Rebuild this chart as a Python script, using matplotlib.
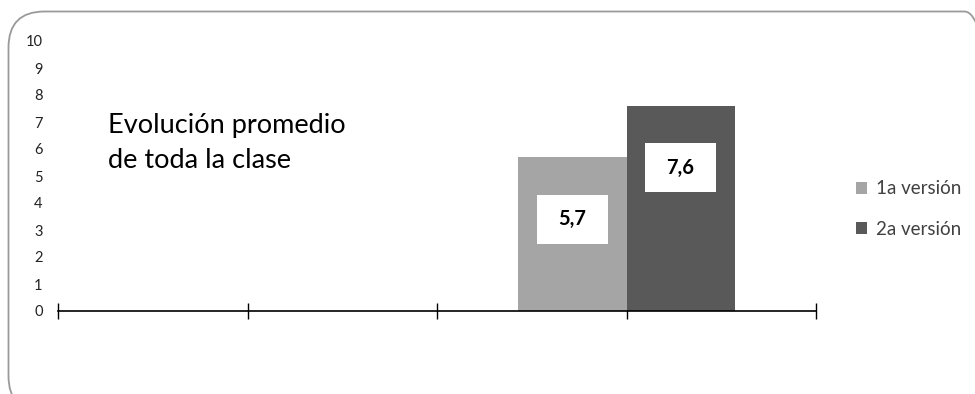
import matplotlib.pyplot as plt
from matplotlib.patches import FancyBboxPatch, Rectangle
from matplotlib.transforms import IdentityTransform

plt.rcParams['font.family'] = ['Lato', 'DejaVu Sans']

series = ['1a versión', '2a versión']
values = [5.7, 7.6]
colors = ['#a5a5a5', '#595959']
title = 'Evolución promedio\nde toda la clase'
group_pos = 3
bar_w = 0.57

fig = plt.figure(figsize=(9.75, 3.94), dpi=100)
W, H = 975, 394

# rounded frame in pixels, cut off at the right and bottom edges
frame = FancyBboxPatch((8.5, -18), 992, 400.5,
                       boxstyle='round,pad=0,rounding_size=36',
                       transform=IdentityTransform(), fill=False,
                       edgecolor='#9a9a9a', lw=1.3)
fig.patches.append(frame)

ax = fig.add_axes([58 / W, 1 - 311 / H, (816 - 58) / W, (311 - 41) / H])
ax.set_xlim(0, 4)
ax.set_ylim(0, 10)

for i, (s, v, c) in enumerate(zip(series, values, colors)):
    x = group_pos + (i - 0.5) * bar_w
    ax.bar(x, v, width=bar_w, color=c, label=s, zorder=2)
    ly = v - 2.3
    bw, bh = 0.37, 1.82
    ax.add_patch(Rectangle((x - bw / 2, ly - bh / 2), bw, bh,
                           facecolor='white', edgecolor='none', zorder=3))
    ax.text(x, ly, f'{v:.1f}'.replace('.', ','), ha='center', va='center',
            fontsize=14.5, fontweight='bold', color='black', zorder=4)

ax.set_xticks(range(5))
ax.set_xticklabels([])
ax.set_yticks(range(11))
ax.tick_params(axis='x', direction='inout', length=12, width=1, color='black')
ax.tick_params(axis='y', length=0, pad=11, labelsize=10.5, labelcolor='#222222')
for s in ['top', 'right', 'left']:
    ax.spines[s].set_visible(False)
ax.spines['bottom'].set_linewidth(1.2)
ax.spines['bottom'].set_zorder(5)
ax.patch.set_visible(False)

fig.text(108 / W, 1 - 113 / H, title, fontsize=19.5, va='top', ha='left',
         linespacing=1.52, color='black')

fig.legend(loc='center left', bbox_to_anchor=(856 / W, 1 - 209 / H),
           frameon=False, fontsize=13.5, handlelength=0.6, handleheight=0.6,
           handletextpad=0.45, labelspacing=1.25, borderpad=0, borderaxespad=0,
           labelcolor='#404040')

fig.savefig('out.png', dpi=100)
